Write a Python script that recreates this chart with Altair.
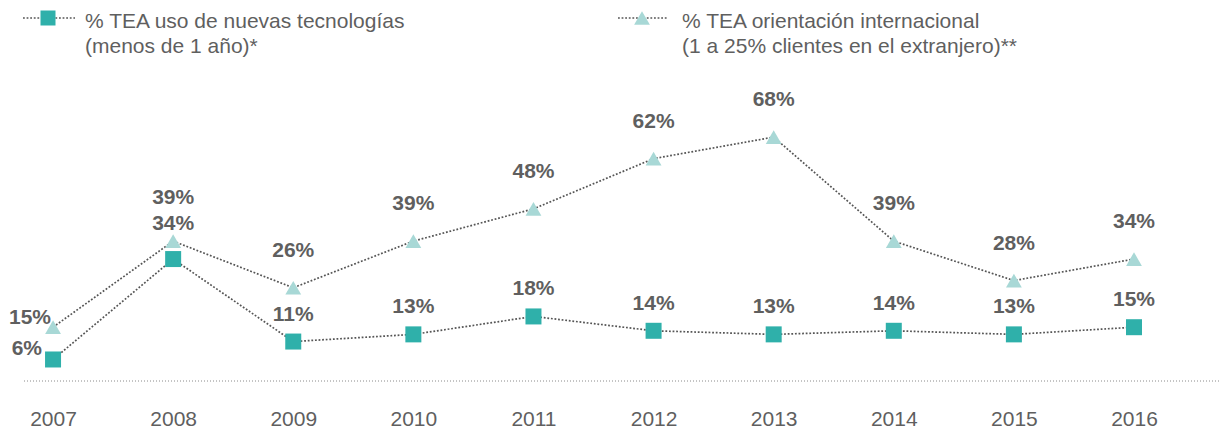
import altair as alt
import pandas as pd

years = [2007, 2008, 2009, 2010, 2011, 2012, 2013, 2014, 2015, 2016]
nuevas_tec = [6, 34, 11, 13, 18, 14, 13, 14, 13, 15]
orient_int = [15, 39, 26, 39, 48, 62, 68, 39, 28, 34]

legend_tec = ["% TEA uso de nuevas tecnologías", "(menos de 1 año)*"]
legend_int = ["% TEA orientación internacional", "(1 a 25% clientes en el extranjero)**"]

FONT = "Liberation Sans"
TEAL = "#2fb0aa"
LIGHT = "#a8d8d6"
LINE = "#555555"
TXT = "#5f5f5f"

df_tec = pd.DataFrame({"year": years, "value": nuevas_tec})
df_int = pd.DataFrame({"year": years, "value": orient_int})
df_tec["label"] = df_tec["value"].astype(str) + "%"
df_int["label"] = df_int["value"].astype(str) + "%"
one = pd.DataFrame({"value": [0]})

x = alt.X(
    "year:Q",
    scale=alt.Scale(domain=[2006.625, 2016.716], nice=False, zero=False),
    axis=alt.Axis(
        values=years, format="d", labelFontSize=21, labelColor=TXT, labelFont=FONT,
        domain=False, ticks=False, grid=False, labelPadding=27, title=None,
        labelFlush=False,
    ),
)
y = alt.Y("value:Q", scale=alt.Scale(domain=[0, 104], nice=False), axis=None)

DASH = [1.8, 1.8]

baseline = alt.Chart(one).mark_rule(color="#8a8a8a", strokeDash=[1, 2], strokeWidth=1).encode(
    y=y, x=alt.value(16), x2=alt.value(1212)
)

line_int = alt.Chart(df_int).mark_line(color=LINE, strokeDash=DASH, strokeWidth=1.7).encode(x=x, y=y)
line_tec = alt.Chart(df_tec).mark_line(color=LINE, strokeDash=DASH, strokeWidth=1.7).encode(x=x, y=y)

pts_int = alt.Chart(df_int).mark_point(shape="triangle-up", filled=True, opacity=1, color=LIGHT, size=250).encode(x=x, y=y)
pts_tec = alt.Chart(df_tec).mark_point(shape="square", filled=True, opacity=1, color=TEAL, size=256).encode(x=x, y=y)

def lab(df, cond, **kw):
    return alt.Chart(df).mark_text(font=FONT, fontSize=21, fontWeight="bold", color=TXT,
                                   baseline="middle", **kw).encode(
        x=x, y=y, text="label:N").transform_filter(cond)

labels = [
    lab(df_int, "datum.year >= 2009", dy=-37),
    lab(df_int, "datum.year == 2008", dy=-43),
    lab(df_int, "datum.year == 2007", dy=-9, dx=-2, align="right"),
    lab(df_tec, "datum.year >= 2009", dy=-27),
    lab(df_tec, "datum.year == 2008", dy=-35),
    lab(df_tec, "datum.year == 2007", dy=-10, dx=-11, align="right"),
]

# legend
LEG_Y = 10
leg_rule1 = alt.Chart(one).mark_rule(color=LINE, strokeDash=DASH, strokeWidth=1.7).encode(
    x=alt.value(15), x2=alt.value(67), y=alt.value(LEG_Y))
leg_sq = alt.Chart(one).mark_square(filled=True, opacity=1, color=TEAL, size=225).encode(
    x=alt.value(40), y=alt.value(LEG_Y))
leg_txt1 = alt.Chart(one).mark_text(text=legend_tec, font=FONT, fontSize=21, color=TXT, align="left",
                                    baseline="alphabetic", lineHeight=25).encode(
    x=alt.value(77), y=alt.value(19.5))
leg_rule2 = alt.Chart(one).mark_rule(color=LINE, strokeDash=DASH, strokeWidth=1.7).encode(
    x=alt.value(610), x2=alt.value(660), y=alt.value(LEG_Y))
leg_tri = alt.Chart(one).mark_point(shape="triangle-up", filled=True, opacity=1, color=LIGHT, size=250).encode(
    x=alt.value(634), y=alt.value(LEG_Y))
leg_txt2 = alt.Chart(one).mark_text(text=legend_int, font=FONT, fontSize=21, color=TXT, align="left",
                                    baseline="alphabetic", lineHeight=25).encode(
    x=alt.value(674), y=alt.value(19.5))

chart = alt.layer(
    baseline, line_int, line_tec, pts_int, pts_tec, *labels,
    leg_rule1, leg_sq, leg_txt1, leg_rule2, leg_tri, leg_txt2,
).properties(
    width=1212, height=373,
    autosize=alt.AutoSizeParams(type="none"),
    padding={"left": 0, "top": 0, "right": 0, "bottom": 52},
).configure_view(stroke=None)

chart.save("out.html", embed_options={"renderer": "svg", "actions": False})
